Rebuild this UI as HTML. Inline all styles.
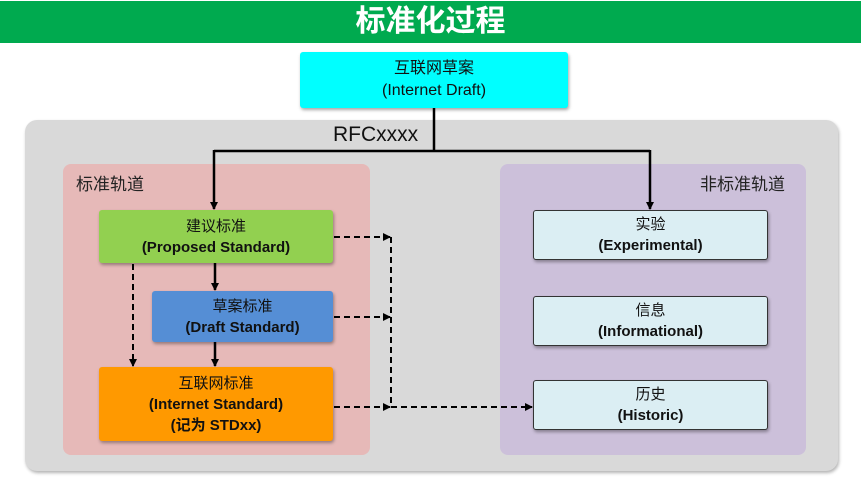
<!DOCTYPE html>
<html><head><meta charset="utf-8"><style>
body{margin:0;width:861px;height:485px;background:#fff;position:relative;overflow:hidden;font-family:"Liberation Sans","Noto Sans CJK SC",sans-serif;}
.a{position:absolute;box-sizing:border-box;}
.box{position:absolute;box-sizing:border-box;display:flex;flex-direction:column;justify-content:center;align-items:center;text-align:center;font-size:15px;line-height:21px;color:#111;border-radius:3px;box-shadow:1px 2px 3px rgba(0,0,0,0.35);}
.box b{font-weight:bold;}
.r{background:#dbeef3;border:1.5px solid #333;}
</style></head><body>
<div class="a" style="left:0;top:1px;width:861px;height:42px;background:#00aa4f;color:#fff;font-size:30px;font-weight:bold;text-align:center;line-height:42px;">标准化过程</div>
<div class="box" style="left:300px;top:52px;width:268px;height:56px;background:#00ffff;font-size:16px;line-height:22px;"><div>互联网草案</div><div>(Internet Draft)</div></div>
<div class="a" style="left:25px;top:120px;width:813px;height:351px;background:#d9d9d9;border-radius:12px;box-shadow:1px 2px 3px rgba(0,0,0,0.3);"></div>
<div class="a" style="left:333px;top:123px;font-size:21px;color:#111;">RFCxxxx</div>
<div class="a" style="left:63px;top:164px;width:307px;height:291px;background:#e6b9b8;border-radius:8px;"></div>
<div class="a" style="left:500px;top:164px;width:306px;height:291px;background:#ccc0da;border-radius:8px;"></div>
<div class="a" style="left:76px;top:170px;font-size:17px;color:#222;">标准轨道</div>
<div class="a" style="left:700px;top:170px;font-size:17px;color:#222;">非标准轨道</div>
<div class="box" style="left:99px;top:210px;width:234px;height:53px;background:#92d050;"><div>建议标准</div><b>(Proposed Standard)</b></div>
<div class="box" style="left:152px;top:291px;width:181px;height:51px;background:#558ed5;"><div>草案标准</div><b>(Draft Standard)</b></div>
<div class="box" style="left:99px;top:367px;width:234px;height:74px;background:#ff9900;"><div>互联网标准</div><b>(Internet Standard)</b><b>(记为 STDxx)</b></div>
<div class="box r" style="left:533px;top:210px;width:235px;height:50px;"><div>实验</div><b>(Experimental)</b></div>
<div class="box r" style="left:533px;top:296px;width:235px;height:50px;"><div>信息</div><b>(Informational)</b></div>
<div class="box r" style="left:533px;top:380px;width:235px;height:50px;"><div>历史</div><b>(Historic)</b></div>
<svg class="a" style="left:0;top:0" width="861" height="485">
<defs><marker id="m" markerWidth="8" markerHeight="8" refX="7" refY="4" orient="auto" markerUnits="userSpaceOnUse"><path d="M0,0L8,4L0,8z" fill="#000"/></marker></defs>
<g stroke="#000" stroke-width="2.5" fill="none">
<path d="M434,108V150M214,151H650"/>
<path d="M214,150V209" marker-end="url(#m)"/>
<path d="M650,150V209" marker-end="url(#m)"/>
<path d="M215,263V290" marker-end="url(#m)"/>
<path d="M215,342V366" marker-end="url(#m)"/>
</g>
<g stroke="#000" stroke-width="2" fill="none" stroke-dasharray="6,4">
<path d="M133,264V366" marker-end="url(#m)"/>
<path d="M334,237H390" marker-end="url(#m)"/>
<path d="M334,317H390" marker-end="url(#m)"/>
<path d="M334,407H390" marker-end="url(#m)"/>
<path d="M391,237V407H532" marker-end="url(#m)"/>
</g>
</svg>
</body></html>
